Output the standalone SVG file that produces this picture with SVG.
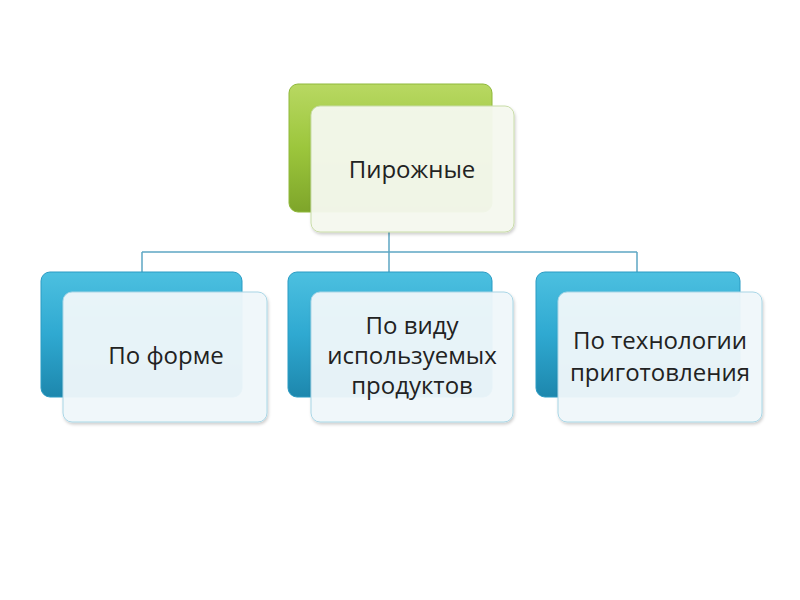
<svg xmlns="http://www.w3.org/2000/svg" width="800" height="600" viewBox="0 0 800 600">
<defs>
<linearGradient id="gGreen" x1="0" y1="0" x2="0" y2="1">
<stop offset="0" stop-color="#b8d862"/>
<stop offset="0.5" stop-color="#9cc63c"/>
<stop offset="1" stop-color="#7ea52a"/>
</linearGradient>
<linearGradient id="gBlue" x1="0" y1="0" x2="0" y2="1">
<stop offset="0" stop-color="#4cc0e0"/>
<stop offset="0.5" stop-color="#2fa9d1"/>
<stop offset="1" stop-color="#1d87ad"/>
</linearGradient>
<filter id="sh" x="-10%" y="-10%" width="130%" height="130%">
<feDropShadow dx="1" dy="2" stdDeviation="1.5" flood-color="#000" flood-opacity="0.2"/>
</filter>
</defs>
<style>
.card{stroke-width:1;filter:url(#sh)}
.cg{fill:#f5f9ef;fill-opacity:0.95;stroke:#c9dca8}
.cb{fill:#f0f8fb;fill-opacity:0.95;stroke:#a9d6e6}
.t{font-family:"Open Sans","Noto Sans","DejaVu Sans",sans-serif;font-size:24px;fill:#222;text-anchor:middle}
.con{fill:none;stroke:#5ea7c4;stroke-width:1.5}
</style>
<rect width="800" height="600" fill="#fff"/>
<g id="connectors">
<path class="con" d="M389 232 V252 M142 252 H637 M142 252 V272 M389 252 V272 M637 252 V272"/>
</g>
<g id="node-root">
<rect x="289" y="84" width="203" height="128" rx="9" fill="url(#gGreen)" stroke="#8fb83a"/>
<rect class="card cg" x="311" y="106" width="203" height="126" rx="9"/>
<text class="t" x="412" y="178">Пирожные</text>
</g>
<g id="node-form">
<rect x="41" y="272" width="201" height="125" rx="9" fill="url(#gBlue)" stroke="#2a9bc3"/>
<rect class="card cb" x="63" y="292" width="204" height="130" rx="9"/>
<text class="t" x="166" y="364">По форме</text>
</g>
<g id="node-products">
<rect x="288" y="272" width="204" height="125" rx="9" fill="url(#gBlue)" stroke="#2a9bc3"/>
<rect class="card cb" x="311" y="292" width="202" height="130" rx="9"/>
<text class="t" x="412" y="334">По виду</text>
<text class="t" x="412" y="364">используемых</text>
<text class="t" x="412" y="394">продуктов</text>
</g>
<g id="node-tech">
<rect x="536" y="272" width="204" height="125" rx="9" fill="url(#gBlue)" stroke="#2a9bc3"/>
<rect class="card cb" x="558" y="292" width="204" height="130" rx="9"/>
<text class="t" x="660" y="349">По технологии</text>
<text class="t" x="660" y="381">приготовления</text>
</g>
</svg>
